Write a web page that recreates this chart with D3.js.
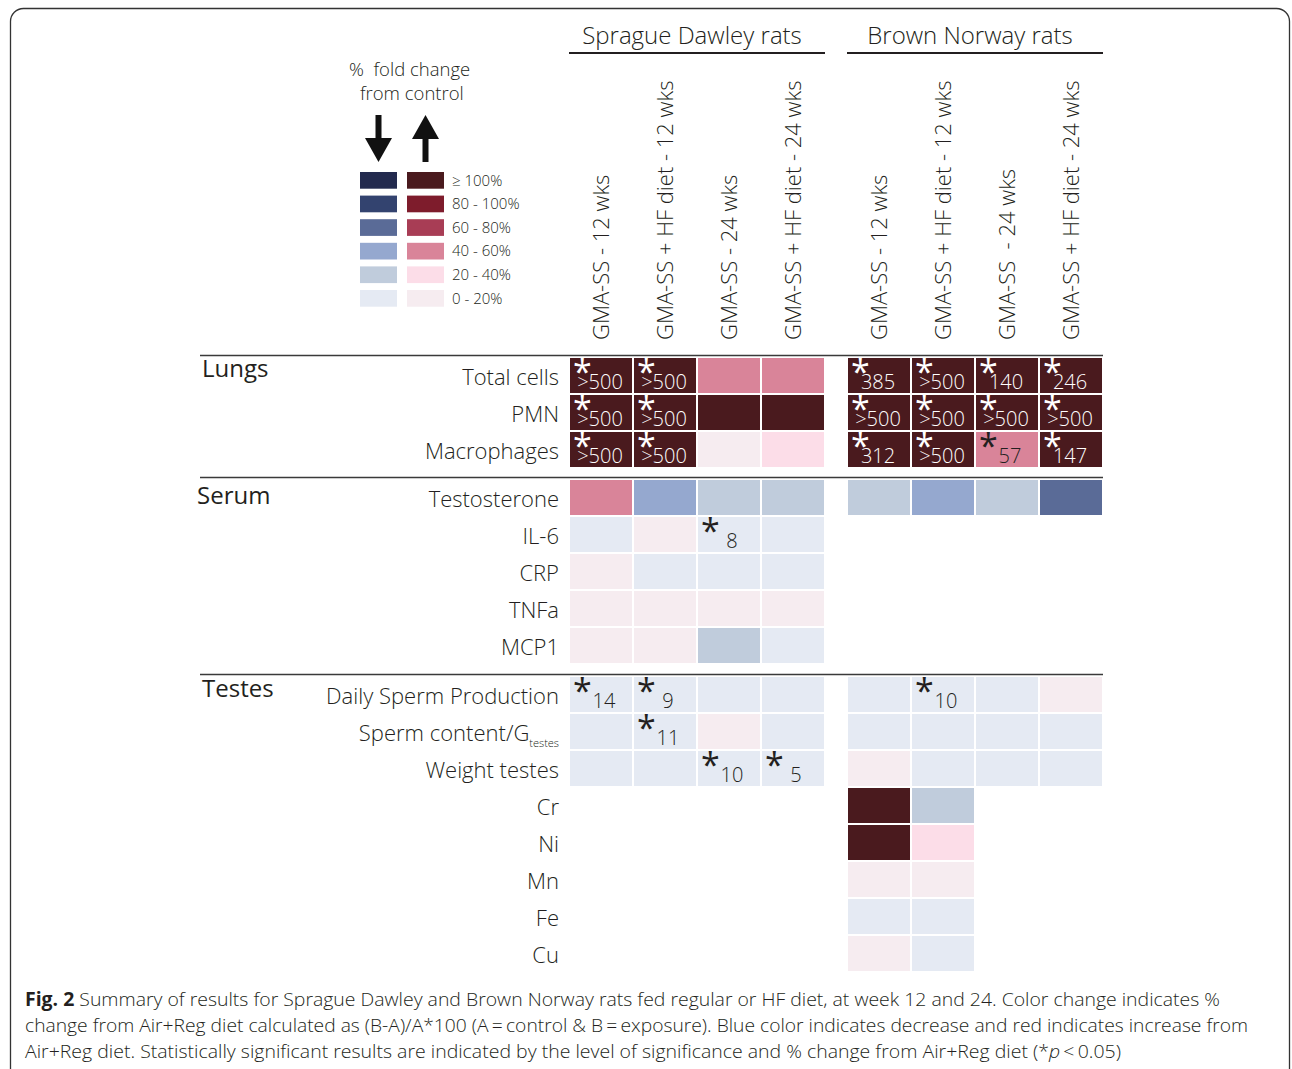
<!DOCTYPE html>
<html>
<head>
<meta charset="utf-8">
<script src="https://cdn.jsdelivr.net/npm/d3@7"></script>
<style>
  body { margin: 0; background: #fff; }
  text { font-family: "Open Sans", "Noto Sans", sans-serif; font-weight: 300; fill: #231f20; }
</style>
</head>
<body>
<div id="chart"></div>
<script>
var svgWidth = 1292;
var svgHeight = 1069;

// column headers (two rat strains, four exposure groups each)
var groupNames = ["Sprague Dawley rats", "Brown Norway rats"];
var sdColumns = ["GMA-SS - 12 wks", "GMA-SS + HF diet - 12 wks", "GMA-SS - 24 wks", "GMA-SS + HF diet - 24 wks"];
var bnColumns = ["GMA-SS - 12 wks", "GMA-SS + HF diet - 12 wks", "GMA-SS  - 24 wks", "GMA-SS + HF diet - 24 wks"];

// row labels per section
var sectionNames = ["Lungs", "Serum", "Testes"];
var lungsRows = ["Total cells", "PMN", "Macrophages"];
var serumRows = ["Testosterone", "IL-6", "CRP", "TNFa", "MCP1"];
var testesRows = ["Daily Sperm Production", "Sperm content/G", "Weight testes", "Cr", "Ni", "Mn", "Fe", "Cu"];

// colour class of each cell: + increase, - decrease
// 1 = 0-20%, 2 = 20-40%, 3 = 40-60%, 4 = 60-80%, 5 = 80-100%, 6 = >= 100%
var lungsSD = [[6, 6, 3, 3], [6, 6, 6, 6], [6, 6, 1, 2]];
var lungsBN = [[6, 6, 6, 6], [6, 6, 6, 6], [6, 6, 3, 6]];
var serumSD = [[3, -3, -2, -2], [-1, 1, -1, -1], [1, -1, -1, -1], [1, 1, 1, 1], [1, 1, -2, -1]];
var serumBN = [[-2, -3, -2, -4], [], [], [], []];
var testesSD = [[-1, -1, -1, -1], [-1, -1, 1, -1], [-1, -1, -1, -1], [], [], [], [], []];
var testesBN = [[-1, -1, -1, 1], [-1, -1, -1, -1], [1, -1, -1, -1], [6, -2], [6, 2], [1, 1], [-1, -1], [1, -1]];

// significant results (* p < 0.05) with % change
var lungsSDSig = [[">500", ">500"], [">500", ">500"], [">500", ">500"]];
var lungsBNSig = [["385", ">500", "140", "246"], [">500", ">500", ">500", ">500"], ["312", ">500", "57", "147"]];
var serumSDSig = [[], [null, null, "8"], [], [], []];
var serumBNSig = [[], [], [], [], []];
var testesSDSig = [["14", "9"], [null, "11"], [null, null, "10", "5"], [], [], [], [], []];
var testesBNSig = [[null, "10"], [], [], [], [], [], [], []];

// legend
var legendLabels = ["\u2265 100%", "80 - 100%", "60 - 80%", "40 - 60%", "20 - 40%", "0 - 20%"];
var decreaseColors = ["#232a4e", "#33436f", "#5a6b97", "#95a8cf", "#c0ccdc", "#e5eaf3"];
var increaseColors = ["#4a1a1e", "#7e1c2c", "#a83d55", "#d98499", "#fcdde8", "#f6ecf0"];

var captionLines = [
  " Summary of results for Sprague Dawley and Brown Norway rats fed regular or HF diet, at week 12 and 24. Color change indicates %",
  "change from Air+Reg diet calculated as (B-A)/A*100 (A\u2009=\u2009control & B\u2009=\u2009exposure). Blue color indicates decrease and red indicates increase from",
  "Air+Reg diet. Statistically significant results are indicated by the level of significance and % change from Air+Reg diet (*"
];

var sections = [
  { name: sectionNames[0], rows: lungsRows, SD: lungsSD, BN: lungsBN, SDsig: lungsSDSig, BNsig: lungsBNSig, top: 358, labelDy: 19, labelX: 202 },
  { name: sectionNames[1], rows: serumRows, SD: serumSD, BN: serumBN, SDsig: serumSDSig, BNsig: serumBNSig, top: 480, labelDy: 24, labelX: 197 },
  { name: sectionNames[2], rows: testesRows, SD: testesSD, BN: testesBN, SDsig: testesSDSig, BNsig: testesBNSig, top: 677, labelDy: 20, labelX: 202 }
];

var svg = d3.select("#chart")
  .append("svg")
  .attr("width", svgWidth)
  .attr("height", svgHeight);

// figure frame
svg.append("rect")
  .attr("x", 10.5).attr("y", 8.5)
  .attr("width", 1279).attr("height", 1100)
  .attr("rx", 13)
  .attr("fill", "none")
  .attr("stroke", "#333")
  .attr("stroke-width", 1.3);

// scales
var color = d3.scaleOrdinal()
  .domain([-6, -5, -4, -3, -2, -1, 1, 2, 3, 4, 5, 6])
  .range(decreaseColors.concat(increaseColors.slice().reverse()));

var xScales = {
  SD: d3.scaleBand().domain(d3.range(4)).range([570, 570 + 254]).paddingInner(2 / 64),
  BN: d3.scaleBand().domain(d3.range(4)).range([848, 848 + 254]).paddingInner(2 / 64)
};
var groupCols = { SD: sdColumns, BN: bnColumns };

// group titles + underline
["SD", "BN"].forEach(function(g, i) {
  var x = xScales[g];
  var x0 = x.range()[0] - 1, x1 = x.range()[1] + 1;
  svg.append("text")
    .attr("x", (x0 + x1) / 2 - 5)
    .attr("y", 44)
    .attr("text-anchor", "middle")
    .style("font-size", "24px")
    .text(groupNames[i]);
  svg.append("line")
    .attr("x1", x0).attr("x2", x1)
    .attr("y1", 53).attr("y2", 53)
    .attr("stroke", "#231f20").attr("stroke-width", 2);

  // rotated column headers
  svg.selectAll(null)
    .data(groupCols[g])
    .enter()
    .append("text")
    .attr("transform", function(d, j) {
      return "translate(" + (x(j) + x.bandwidth() / 2) + ",340) rotate(-90)";
    })
    .attr("dy", "0.35em")
    .style("font-size", "22px")
    .style("white-space", "pre")
    .text(function(d) { return d; });
});

// build cells
var cells = [];
sections.forEach(function(s) {
  s.y = d3.scaleBand()
    .domain(s.rows)
    .range([s.top, s.top + 37 * s.rows.length - 2])
    .paddingInner(2 / 37);
  s.rows.forEach(function(row, r) {
    ["SD", "BN"].forEach(function(g) {
      (s[g][r] || []).forEach(function(level, c) {
        var sig = (s[g + "sig"][r] || [])[c];
        cells.push({ section: s, row: row, group: g, col: c, level: level, sig: sig || null });
      });
    });
  });
});

var cellG = svg.append("g");

cellG.selectAll("rect")
  .data(cells)
  .enter()
  .append("rect")
  .attr("x", function(d) { return xScales[d.group](d.col); })
  .attr("y", function(d) { return d.section.y(d.row); })
  .attr("width", function(d) { return xScales[d.group].bandwidth(); })
  .attr("height", function(d) { return d.section.y.bandwidth(); })
  .attr("fill", function(d) { return color(d.level); });

var sigCells = cells.filter(function(d) { return d.sig; });

function textFill(d) { return Math.abs(d.level) >= 5 ? "#ffffff" : "#231f20"; }

// one label per significant cell: asterisk + % change
var sigText = cellG.selectAll("text.sig")
  .data(sigCells)
  .enter()
  .append("text")
  .attr("class", "sig")
  .style("fill", textFill);

sigText.append("tspan")
  .attr("x", function(d) { return xScales[d.group](d.col) + 3; })
  .attr("y", function(d) { return d.section.y(d.row) + 26; })
  .style("font-size", "34px")
  .style("font-weight", "400")
  .text("*");

sigText.append("tspan")
  .attr("x", function(d) { return xScales[d.group](d.col) + (Math.abs(d.level) >= 5 ? 30 : 34); })
  .attr("y", function(d) { return d.section.y(d.row) + 31; })
  .attr("text-anchor", "middle")
  .style("font-size", "20px")
  .text(function(d) { return d.sig; });

// section labels, separators, row labels
sections.forEach(function(s) {
  svg.append("line")
    .attr("x1", 200).attr("x2", 1103)
    .attr("y1", s.top - 2.5).attr("y2", s.top - 2.5)
    .attr("stroke", "#3a3a3a").attr("stroke-width", 1.6);

  svg.append("text")
    .attr("x", s.labelX)
    .attr("y", s.top + s.labelDy)
    .style("font-size", "24px")
    .style("font-weight", "400")
    .text(s.name);

  var labels = svg.selectAll(null)
    .data(s.rows)
    .enter()
    .append("text")
    .attr("x", 559)
    .attr("y", function(d) { return s.y(d) + s.y.bandwidth() / 2; })
    .attr("dy", "0.42em")
    .attr("text-anchor", "end")
    .style("font-size", "22px");

  labels.append("tspan").text(function(d) { return d; });
  labels.filter(function(d) { return d === "Sperm content/G"; })
    .append("tspan")
    .attr("dy", 6)
    .style("font-size", "11px")
    .text("testes");
});

// legend
svg.append("text").attr("x", 349).attr("y", 76).style("font-size", "18.5px")
  .style("white-space", "pre").text("%  fold change");
svg.append("text").attr("x", 360).attr("y", 100).style("font-size", "18.5px").text("from control");

svg.append("path")
  .attr("d", "M375.5,115H381.5V138H392L378.5,162L365,138H375.5Z")
  .attr("fill", "#111");
svg.append("path")
  .attr("d", "M422.5,162H428.5V139H439L425.5,115L412,139H422.5Z")
  .attr("fill", "#111");

var legendY = d3.scaleBand()
  .domain(legendLabels)
  .range([172, 172 + 23.6 * 6 - 6.9])
  .paddingInner(6.9 / 23.6);

var legendG = svg.append("g");
legendG.selectAll("rect.dec")
  .data(legendLabels)
  .enter()
  .append("rect")
  .attr("x", 360)
  .attr("y", function(d) { return legendY(d); })
  .attr("width", 37)
  .attr("height", legendY.bandwidth())
  .attr("fill", function(d, i) { return decreaseColors[i]; });
legendG.selectAll("rect.inc")
  .data(legendLabels)
  .enter()
  .append("rect")
  .attr("x", 407)
  .attr("y", function(d) { return legendY(d); })
  .attr("width", 37)
  .attr("height", legendY.bandwidth())
  .attr("fill", function(d, i) { return increaseColors[i]; });
legendG.selectAll("text")
  .data(legendLabels)
  .enter()
  .append("text")
  .attr("x", 452)
  .attr("y", function(d) { return legendY(d) + legendY.bandwidth() / 2; })
  .attr("dy", "0.35em")
  .style("font-size", "15px")
  .text(function(d) { return d; });

// caption
var cap = svg.append("g").style("font-size", "19px");
var l1 = cap.append("text").attr("x", 25).attr("y", 1006)
  .attr("textLength", 1195).attr("lengthAdjust", "spacingAndGlyphs");
l1.append("tspan").style("font-weight", "700").text("Fig. 2");
l1.append("tspan").text(captionLines[0]);
cap.append("text").attr("x", 25).attr("y", 1032)
  .attr("textLength", 1223).attr("lengthAdjust", "spacingAndGlyphs")
  .text(captionLines[1]);
var l3 = cap.append("text").attr("x", 25).attr("y", 1058)
  .attr("textLength", 1096).attr("lengthAdjust", "spacingAndGlyphs");
l3.append("tspan").text(captionLines[2]);
l3.append("tspan").style("font-style", "italic").text("p");
l3.append("tspan").text("\u2009<\u20090.05)");
</script>
</body>
</html>
